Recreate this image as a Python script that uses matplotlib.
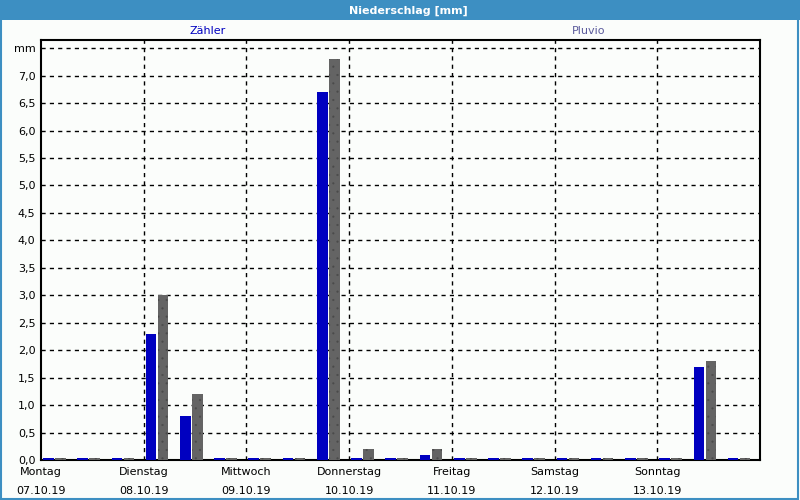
import matplotlib
matplotlib.use("Agg")
import matplotlib.pyplot as plt
from matplotlib.patches import Rectangle
import numpy as np

days = ["Montag", "Dienstag", "Mittwoch", "Donnerstag", "Freitag", "Samstag", "Sonntag"]
dates = ["07.10.19", "08.10.19", "09.10.19", "10.10.19", "11.10.19", "12.10.19", "13.10.19"]
zaehler = [0.0, 0.0, 0.0, 2.3, 0.8, 0.0, 0.0, 0.0, 6.7, 0.0, 0.0, 0.1, 0.0, 0.0, 0.0, 0.0, 0.0, 0.0, 0.0, 1.7, 0.0]
pluvio = [0.0, 0.0, 0.0, 3.0, 1.2, 0.0, 0.0, 0.0, 7.3, 0.2, 0.0, 0.2, 0.0, 0.0, 0.0, 0.0, 0.0, 0.0, 0.0, 1.8, 0.0]
yticks = [0.0, 0.5, 1.0, 1.5, 2.0, 2.5, 3.0, 3.5, 4.0, 4.5, 5.0, 5.5, 6.0, 6.5, 7.0, 7.5]

matplotlib.rcParams["hatch.linewidth"] = 0.3
bg = "#fbfdfb"
fig = plt.figure(figsize=(8, 5), dpi=100, facecolor=bg)
ax = fig.add_axes([41/800, 40/500, 719/800, 420/500], facecolor=bg)

n = len(zaehler)
x = np.arange(n)
minh = 0.035
zh = np.maximum(np.array(zaehler), minh)
ph = np.maximum(np.array(pluvio), minh)
ax.bar(x + 0.06, zh, width=0.31, align="edge", color="#0000c0", linewidth=0, zorder=3)
ax.bar(x + 0.41, ph, width=0.31, align="edge", color="#646464", edgecolor="#4a4a4a",
       linewidth=0, hatch="..", zorder=3)

ax.set_xlim(0, n)
ax.set_ylim(0, 7.65)

# grid
for yv in yticks[1:]:
    ax.axhline(yv, color="black", lw=1, ls=(0, (3, 3)), zorder=1)
for d in range(1, len(days)):
    ax.axvline(d * 3, color="black", lw=1, ls=(0, (3, 3)), zorder=1)

ax.set_yticks(yticks)
labels = [f"{v:.1f}".replace(".", ",") for v in yticks]
labels[-1] = "mm"
ax.set_yticklabels(labels, fontsize=8)
ax.tick_params(axis="y", length=0, pad=4)
ax.set_xticks([d * 3 for d in range(len(days))])
ax.set_xticklabels([f"{a}\n{b}" for a, b in zip(days, dates)], fontsize=8, linespacing=2.15)
ax.tick_params(axis="x", length=0, pad=5)
for s in ax.spines.values():
    s.set_color("black")
    s.set_linewidth(1.5)

# title bar
fig.patches.append(Rectangle((0, 480/500), 1, 20/500, transform=fig.transFigure,
                             facecolor="#3d8fc2", edgecolor="none", zorder=0))
fig.text(0.511, 0.979, "Niederschlag [mm]", color="white", fontsize=8, fontweight="bold",
         ha="center", va="center")
fig.patches.append(Rectangle((0.001, 0.003), 0.997, 0.995, transform=fig.transFigure,
                             facecolor="none", edgecolor="#3d8fc2", lw=1.5, zorder=5))
fig.text(208/800, 1 - 31/500, "Zähler", color="#0000c0", fontsize=8, ha="center", va="center")
fig.text(589/800, 1 - 31/500, "Pluvio", color="#5a5a9c", fontsize=8, ha="center", va="center")

fig.savefig("out.png", dpi=100, facecolor=bg)
